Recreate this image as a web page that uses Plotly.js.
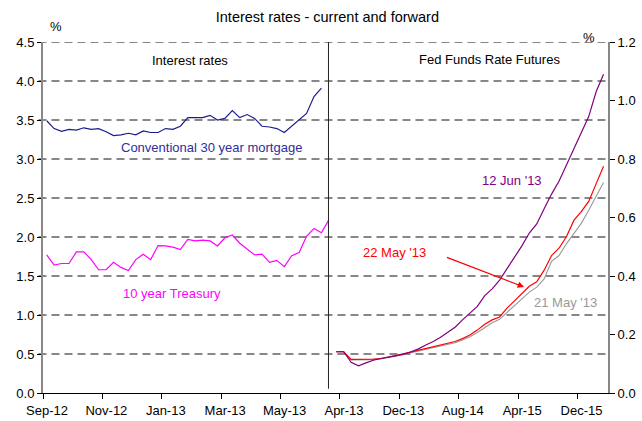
<!DOCTYPE html>
<html>
<head>
<meta charset="utf-8">
<script src="https://cdn.plot.ly/plotly-3.0.1.min.js"></script>
<style>
  html, body { margin: 0; padding: 0; background: #fff; }
  #chart { width: 642px; height: 421px; }
</style>
</head>
<body>
<div id="chart"></div>
<script>
// left panel: weekly observations, Sep-12 to Jun-13 (% p.a.)
const mortgage = [3.49, 3.39, 3.355, 3.38, 3.37, 3.40, 3.38, 3.39, 3.35, 3.30, 3.31, 3.33, 3.31,
  3.36, 3.34, 3.34, 3.39, 3.38, 3.42, 3.53, 3.53, 3.53, 3.56, 3.50, 3.52, 3.62, 3.53, 3.57,
  3.52, 3.42, 3.41, 3.39, 3.34, 3.42, 3.50, 3.585, 3.80, 3.91]
const treasury = [1.77, 1.64, 1.66, 1.66, 1.81, 1.81, 1.71, 1.58, 1.58, 1.675, 1.61, 1.57, 1.71,
  1.78, 1.71, 1.89, 1.885, 1.87, 1.84, 1.97, 1.95, 1.96, 1.95, 1.885, 1.99, 2.025, 1.92, 1.84,
  1.77, 1.78, 1.675, 1.70, 1.62, 1.76, 1.80, 2.01, 2.11, 2.055, 2.22]

// right panel: monthly fed funds futures curves (%)
const futuresStart = 39
const jun12 = [0.141, 0.141, 0.105, 0.093, 0.103, 0.112, 0.118, 0.122, 0.126, 0.132, 0.140, 0.150,
  0.163, 0.175, 0.19, 0.207, 0.225, 0.25, 0.272, 0.296, 0.333, 0.356, 0.386, 0.425, 0.461, 0.503,
  0.547, 0.578, 0.63, 0.68, 0.724, 0.78, 0.835, 0.888, 0.945, 1.03, 1.09]
const may22 = [0.141, 0.141, 0.115, 0.115, 0.115, 0.116, 0.118, 0.122, 0.128, 0.134, 0.140, 0.146,
  0.152, 0.158, 0.165, 0.171, 0.176, 0.186, 0.198, 0.215, 0.235, 0.25, 0.26, 0.29, 0.315, 0.337,
  0.365, 0.38, 0.42, 0.47, 0.495, 0.534, 0.59, 0.62, 0.655, 0.715, 0.775]
const may21 = [0.141, 0.141, 0.113, 0.113, 0.113, 0.114, 0.116, 0.120, 0.126, 0.132, 0.137, 0.143,
  0.149, 0.155, 0.161, 0.167, 0.172, 0.181, 0.192, 0.207, 0.225, 0.24, 0.252, 0.275, 0.30, 0.32,
  0.345, 0.362, 0.39, 0.45, 0.47, 0.51, 0.545, 0.58, 0.625, 0.675, 0.72]

// shared category axis, a label every 8 periods
const tickLabels = ['Sep-12', 'Nov-12', 'Jan-13', 'Mar-13', 'May-13', 'Apr-13', 'Dec-13', 'Aug-14', 'Apr-15', 'Dec-15']
const gridLevels = [0.5, 1.0, 1.5, 2.0, 2.5, 3.0, 3.5, 4.0, 4.5]

const idx = (arr, start) => arr.map((_, i) => start + i)

const FONT = 'Liberation Sans, Arial, sans-serif'

var data = [
  { x: idx(mortgage, 0), y: mortgage, type: 'scatter', mode: 'lines', name: 'Conventional 30 year mortgage',
    line: { color: '#1c1c8f', width: 1.2 }, xaxis: 'x', yaxis: 'y' },
  { x: idx(treasury, 0), y: treasury, type: 'scatter', mode: 'lines', name: '10 year Treasury',
    line: { color: '#ff00ff', width: 1.2 }, xaxis: 'x', yaxis: 'y' },
  { x: idx(may21, futuresStart), y: may21, type: 'scatter', mode: 'lines', name: "21 May '13",
    line: { color: '#999999', width: 1.1 }, xaxis: 'x', yaxis: 'y2' },
  { x: idx(may22, futuresStart), y: may22, type: 'scatter', mode: 'lines', name: "22 May '13",
    line: { color: '#ff0000', width: 1.2 }, xaxis: 'x', yaxis: 'y2' },
  { x: idx(jun12, futuresStart), y: jun12, type: 'scatter', mode: 'lines', name: "12 Jun '13",
    line: { color: '#800080', width: 1.2 }, xaxis: 'x', yaxis: 'y2' }
]

var txt = (text, x, y, color, yref) => ({
  text: text, x: x, y: y, xref: 'x', yref: yref || 'y', showarrow: false,
  font: { family: FONT, size: 13, color: color }
})

var layout = {
  width: 642,
  height: 421,
  margin: { l: 43, r: 34, t: 42, b: 28 },
  paper_bgcolor: '#ffffff',
  plot_bgcolor: '#ffffff',
  showlegend: false,
  font: { family: FONT, size: 13, color: '#000' },
  title: {
    text: 'Interest rates - current and forward',
    font: { family: FONT, size: 14.5, color: '#000' },
    x: 0.51, xanchor: 'center', y: 0.96, yanchor: 'middle', yref: 'container'
  },
  xaxis: {
    range: [-0.5, 75.6],
    tickmode: 'array',
    tickvals: tickLabels.map((_, i) => i * 8 - 0.5),
    ticktext: tickLabels,
    ticklabelshift: 4,
    ticks: 'outside', ticklen: 5, tickcolor: '#000',
    showline: true, linecolor: '#000', linewidth: 1,
    showgrid: false, zeroline: false,
    tickfont: { family: FONT, size: 13, color: '#000' }
  },
  yaxis: {
    range: [0, 4.5],
    tickmode: 'array',
    tickvals: [0].concat(gridLevels),
    tickformat: '.1f',
    ticks: 'outside', ticklen: 4, tickcolor: '#000',
    showline: true, linecolor: '#888', linewidth: 2,
    showgrid: false, zeroline: false,
    tickfont: { family: FONT, size: 13, color: '#000' }
  },
  yaxis2: {
    range: [0, 1.2],
    dtick: 0.2,
    tickformat: '.1f',
    overlaying: 'y', side: 'right', anchor: 'x',
    ticks: 'outside', ticklen: 5, tickcolor: '#000',
    showline: true, linecolor: '#888', linewidth: 2,
    showgrid: false, zeroline: false,
    tickfont: { family: FONT, size: 13, color: '#000' }
  },
  shapes: gridLevels.map(v => ({
    type: 'line', xref: 'paper', yref: 'y', x0: -0.008, x1: 1, y0: v, y1: v,
    line: { color: '#111', width: 1, dash: '8px,5px' }, layer: 'below'
  })).concat([{
    type: 'line', xref: 'x', yref: 'paper', x0: 37.95, x1: 37.95, y0: 0.012, y1: 1,
    line: { color: '#222', width: 1 }
  }]),
  annotations: [
    txt('Interest rates', 19.3, 4.26, '#000'),
    txt('Fed Funds Rate Futures', 59.6, 4.27, '#000'),
    txt('Conventional 30 year mortgage', 22.2, 3.15, '#2e2e9e'),
    txt('10 year Treasury', 16.9, 1.28, '#ff00ff'),
    txt("12 Jun '13", 62.7, 0.726, '#800080', 'y2'),
    txt("22 May '13", 46.9, 0.479, '#ff0000', 'y2'),
    txt("21 May '13", 69.9, 0.308, '#999999', 'y2'),
    { text: '', x: 64.3, y: 0.362, xref: 'x', yref: 'y2', ax: 53.7, ay: 0.466, axref: 'x', ayref: 'y2',
      showarrow: true, arrowhead: 2, arrowsize: 1, arrowwidth: 1.3, arrowcolor: '#ff0000' },
    { text: '%', xref: 'paper', yref: 'paper', x: 0.009, y: 1.071, showarrow: false,
      font: { family: FONT, size: 13, color: '#000' } },
    { text: '%', xref: 'paper', yref: 'paper', x: 0.98, y: 1.04, showarrow: false,
      font: { family: FONT, size: 13, color: '#000' } }
  ]
}

Plotly.newPlot('chart', data, layout, { displayModeBar: false, staticPlot: true })
</script>
</body>
</html>
